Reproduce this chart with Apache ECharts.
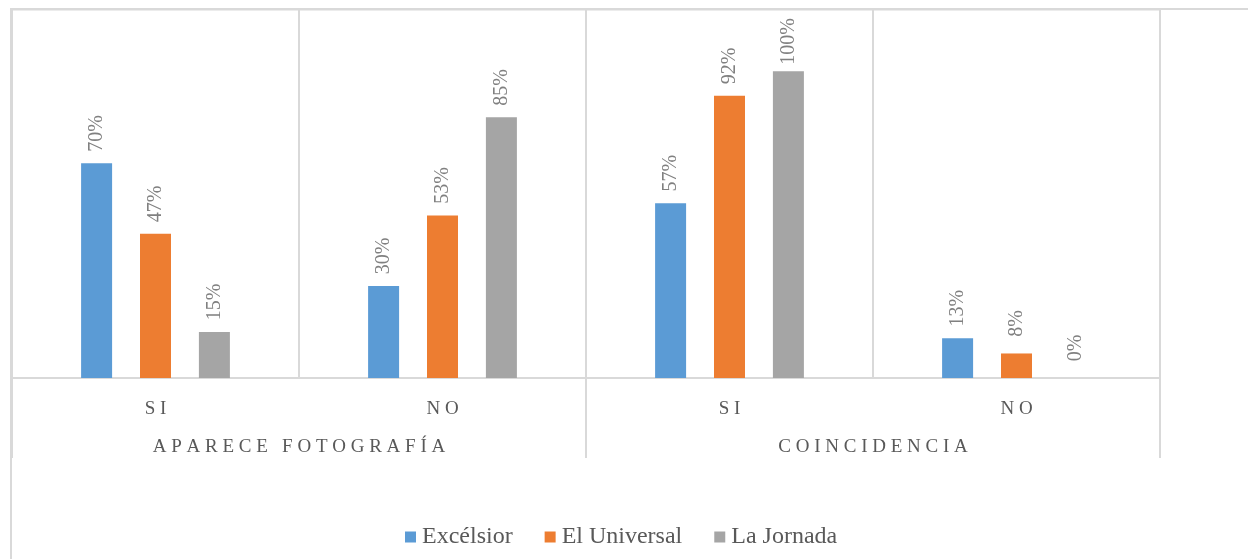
<!DOCTYPE html>
<html>
<head>
<meta charset="utf-8">
<script src="https://cdn.jsdelivr.net/npm/echarts@6/dist/echarts.min.js"></script>
<style>
  html, body { margin: 0; padding: 0; background: #fff; }
  #chart { width: 1248px; height: 559px; }
</style>
</head>
<body>
<div id="chart"></div>
<script>
// categorías (dos niveles)
const subCategories = ['S I', 'N O', 'S I', 'N O'];
const groupCategories = ['A P A R E C E   F O T O G R A F Í A', 'C O I N C I D E N C I A'];
// valores en %
const excelsior = [70, 30, 57, 13];
const elUniversal = [47, 53, 92, 8];
const laJornada = [15, 85, 100, 0];
const seriesNames = ['Excélsior', 'El Universal', 'La Jornada'];
const colors = ['#5B9BD5', '#ED7D31', '#A5A5A5'];

const font = '"Liberation Serif", "Times New Roman", serif';
const chart = echarts.init(document.getElementById('chart'));

const label = {
    show: true,
    position: 'top',
    rotate: 90,
    align: 'center',
    verticalAlign: 'middle',
    distance: 30,
    color: '#808080',
    fontFamily: font,
    fontSize: 20,
    formatter: p => p.value + '%'
};

const mkSeries = (name, data, i) => ({
    name: name,
    type: 'bar',
    data: data,
    barWidth: 31,
    barGap: '90%',
    barCategoryGap: '48%',
    itemStyle: { color: colors[i] },
    label: label,
    animation: false
});

const options = {
    animation: false,
    grid: {
        left: 12,
        right: 88,
        top: 10,
        bottom: 181,
        show: true,
        borderColor: '#d9d9d9',
        borderWidth: 1
    },
    legend: {
        left: 405,
        top: 525,
        padding: 0,
        itemWidth: 11,
        itemHeight: 11,
        itemGap: 32,
        icon: 'rect',
        data: seriesNames,
        textStyle: { color: '#595959', fontFamily: font, fontSize: 24, padding: [0, 0, 0, 1] }
    },
    xAxis: [
        {
            type: 'category',
            data: subCategories,
            position: 'bottom',
            axisLine: { show: true, lineStyle: { color: '#d9d9d9', width: 2 } },
            axisTick: { show: false },
            splitLine: { show: true, lineStyle: { color: '#d9d9d9', width: 2 } },
            axisLabel: { color: '#595959', fontFamily: font, fontSize: 19, margin: 22 }
        },
        {
            type: 'category',
            data: groupCategories,
            position: 'bottom',
            axisLine: { show: false },
            axisTick: { show: true, length: 80, lineStyle: { color: '#d9d9d9', width: 2 } },
            axisLabel: { color: '#595959', fontFamily: font, fontSize: 19, margin: 60 }
        }
    ],
    yAxis: {
        type: 'value',
        min: 0,
        max: 120,
        show: false,
        splitLine: { show: false }
    },
    graphic: [
        {
            type: 'rect',
            shape: { x: 11, y: 9, width: 1400, height: 700 },
            style: { fill: 'none', stroke: '#d9d9d9', lineWidth: 2 },
            silent: true,
            z: 10
        }
    ],
    series: [
        mkSeries(seriesNames[0], excelsior, 0),
        mkSeries(seriesNames[1], elUniversal, 1),
        mkSeries(seriesNames[2], laJornada, 2)
    ]
};

chart.setOption(options);
</script>
</body>
</html>
